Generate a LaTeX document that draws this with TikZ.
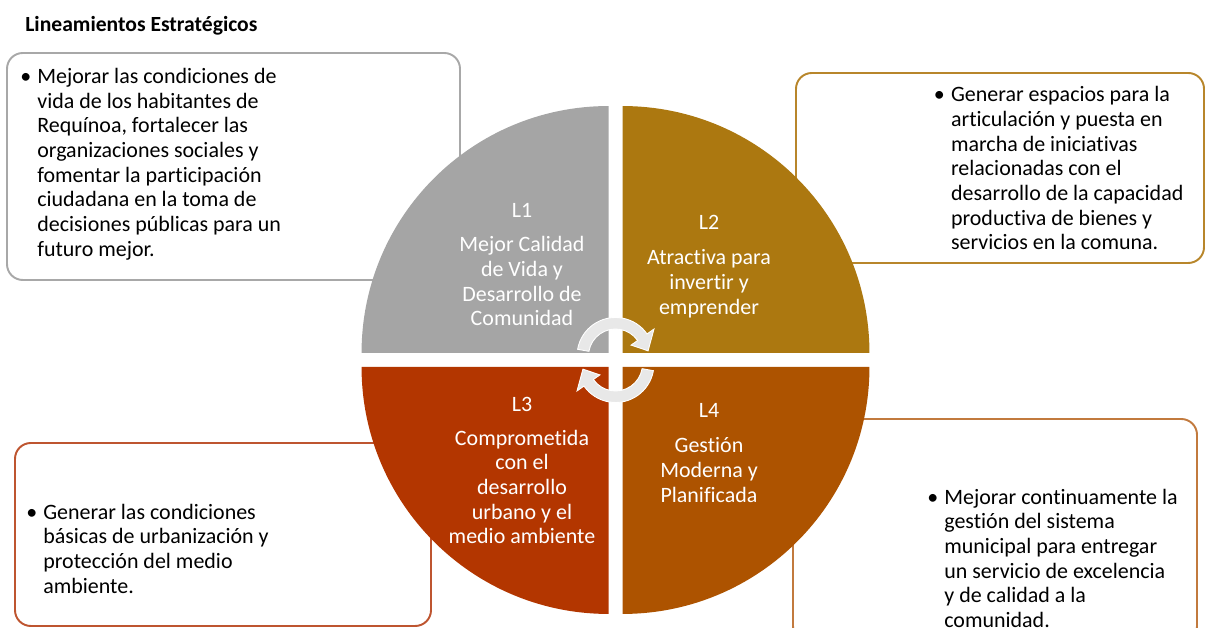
\documentclass[tikz,border=0pt]{standalone}
\usepackage{fontspec}
\setmainfont{Carlito}[Ligatures=CommonOff]
\usetikzlibrary{positioning}

\definecolor{gris}{HTML}{A5A5A5}
\definecolor{oro}{HTML}{AC7810}
\definecolor{rojo}{HTML}{B33600}
\definecolor{naranja}{HTML}{AD5300}
\definecolor{grisborde}{HTML}{A8A8A8}
\definecolor{oroborde}{HTML}{B8862B}
\definecolor{rojoborde}{HTML}{BE5530}
\definecolor{naranjaborde}{HTML}{C27A3E}

\newcommand{\vin}{\llap{\textbullet\hspace{3.5pt}}}

\begin{document}
\begin{tikzpicture}[x=0.02cm,y=0.02cm]

\tikzset{caja/.style={line width=1.1pt,rounded corners=9pt,fill=white},
cuerpo/.style={font=\fontsize{12.5}{14.05}\selectfont,inner sep=0pt},
lista/.style={cuerpo,align=left,anchor=base west},
etiqueta/.style={cuerpo,text=white,anchor=base},
lema/.style={cuerpo,text=white,align=center,anchor=base},
flecha/.style={fill=black!9,draw=white,line width=0.5pt}}

\useasboundingbox (0,0) rectangle (1206,628);

% Title
\node[anchor=base west,inner sep=0pt,font=\bfseries\fontsize{12.3}{14}\selectfont] (titulo) at (25,596) {Lineamientos Estratégicos};

% Boxes
\draw[caja,draw=grisborde] (7,575) rectangle (460,348);
\draw[caja,draw=oroborde] (796,555) rectangle (1204,365);
\draw[caja,draw=rojoborde] (15,185) rectangle (431,2);
\draw[caja,draw=naranjaborde] (793,209) rectangle (1197,-14);

% Quadrants
\foreach \c/\dx/\dy/\a in {gris/-7/7/90, oro/7/7/0, rojo/-7/-7/180, naranja/7/-7/270}
  \fill[\c] (615.5+\dx,268+\dy) -- ++(\a:4.94cm) arc[start angle=\a,end angle=\a+90,radius=4.94cm] -- cycle;

% Arrows
\begin{scope}[shift={(615.5,272)}]
\filldraw[flecha] (170:0.77cm) arc[start angle=170,end angle=35,radius=0.77cm] -- (35:0.94cm) -- (9:0.66cm) -- (35:0.38cm) -- (35:0.54cm) arc[start angle=35,end angle=170,radius=0.54cm] -- cycle;
\end{scope}
\begin{scope}[shift={(615.5,264)},rotate=180]
\filldraw[flecha] (170:0.77cm) arc[start angle=170,end angle=35,radius=0.77cm] -- (35:0.94cm) -- (9:0.66cm) -- (35:0.38cm) -- (35:0.54cm) arc[start angle=35,end angle=170,radius=0.54cm] -- cycle;
\end{scope}

% Circle labels (text nodes sit on their last baseline)
\node[etiqueta] (l1) at (522,410.7) {L1};
\node[lema,below=61.7pt of l1.base,anchor=base] (l1txt) {Mejor Calidad\\de Vida y\\Desarrollo de\\Comunidad};
\node[etiqueta] (l2) at (709,398) {L2};
\node[lema,below=48pt of l2.base,anchor=base] (l2txt) {Atractiva para\\invertir y\\emprender};
\node[etiqueta] (l3) at (522,216.3) {L3};
\node[lema,below=75.2pt of l3.base,anchor=base] (l3txt) {Comprometida\\con el\\desarrollo\\urbano y el\\medio ambiente};
\node[etiqueta] (l4) at (709,210) {L4};
\node[lema,below=47.9pt of l4.base,anchor=base] (l4txt) {Gestión\\Moderna y\\Planificada};

% Box texts
\node[lista] (desc1) at (37,371.8) {\vin Mejorar las condiciones de\\vida de los habitantes de\\Requínoa, fortalecer las\\organizaciones sociales y\\fomentar la participación\\ciudadana en la toma de\\decisiones públicas para un\\futuro mejor.};
\node[lista] (desc2) at (950.7,378.1) {\vin Generar espacios para la\\articulación y puesta en\\marcha de iniciativas\\relacionadas con el\\desarrollo de la capacidad\\productiva de bienes y\\servicios en la comuna.};
\node[lista] (desc3) at (43,34.9) {\vin Generar las condiciones\\básicas de urbanización y\\protección del medio\\ambiente.};
\node[lista] (desc4) at (944,0.5) {\vin Mejorar continuamente la\\gestión del sistema\\municipal para entregar\\un servicio de excelencia\\y de calidad a la\\comunidad.};

\end{tikzpicture}
\end{document}
